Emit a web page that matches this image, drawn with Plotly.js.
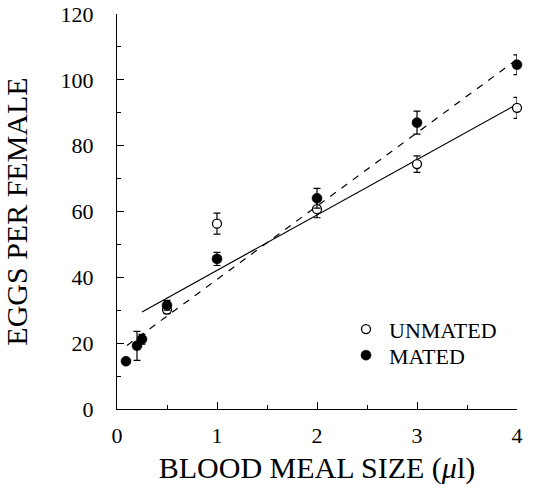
<!DOCTYPE html>
<html>
<head>
<meta charset="utf-8">
<script src="https://cdn.plot.ly/plotly-3.0.1.min.js"></script>
<style>html,body{margin:0;padding:0;background:#fff;}#chart{width:534px;height:501px;}</style>
</head>
<body>
<div id="chart"></div>
<script>
// Data
const unmatedX = [0.5, 1, 2, 3, 4];
const unmatedY = [30.2, 56.3, 60.7, 74.4, 91.5];
const unmatedErr = [1.2, 3.2, 2.6, 2.5, 3.2];

const matedX = [0.09, 0.2, 0.25, 0.5, 1, 2, 3, 4];
const matedY = [14.5, 19.2, 21.2, 31.5, 45.6, 64.0, 87.0, 104.6];
const matedErr = [0, 4.4, 1.5, 1.5, 2.0, 3.0, 3.5, 3.0];

const unmatedFitX = [0.25, 4];
const unmatedFitY = [29.5, 92.6];
const matedFitX = [0.1, 4];
const matedFitY = [19.3, 106.2];

const xTitle = 'BLOOD MEAL SIZE (<i>μ</i>l)';
const yTitle = 'EGGS PER FEMALE';

const serif = 'Liberation Serif, Times New Roman, serif';

const traces = [
  {x: unmatedFitX, y: unmatedFitY, mode: 'lines', line: {color: '#000', width: 1.2, dash: 'solid'}, showlegend: false, hoverinfo: 'skip'},
  {x: matedFitX, y: matedFitY, mode: 'lines', line: {color: '#000', width: 1.2, dash: '7px,7px'}, showlegend: false, hoverinfo: 'skip'},
  {x: unmatedX, y: unmatedY, name: 'UNMATED', mode: 'markers', cliponaxis: false, legend: 'legend',
   marker: {symbol: 'circle', size: 9, color: '#fff', line: {color: '#000', width: 1.3}},
   error_y: {type: 'data', array: unmatedErr, color: '#000', thickness: 1.2, width: 3.5}},
  {x: matedX, y: matedY, name: 'MATED', mode: 'markers', cliponaxis: false, legend: 'legend2',
   marker: {symbol: 'circle', size: 10, color: '#000', line: {color: '#000', width: 0.5}},
   error_y: {type: 'data', array: matedErr, color: '#000', thickness: 1.2, width: 3.5}}
];

const legendBase = {x: 0.565, xanchor: 'left', yanchor: 'top', bgcolor: 'rgba(0,0,0,0)',
  font: {family: serif, size: 22, color: '#000'}, tracegroupgap: 0, itemwidth: 36};

const layout = {
  width: 534, height: 501,
  margin: {l: 117, r: 17, t: 14, b: 91.5, pad: 0},
  paper_bgcolor: '#fff', plot_bgcolor: '#fff',
  font: {family: serif, color: '#000', size: 22},
  showlegend: true,
  legend: Object.assign({}, legendBase, {y: 0.255}),
  legend2: Object.assign({}, legendBase, {y: 0.189}),
  xaxis: {
    range: [0, 4], showline: true, linecolor: '#000', linewidth: 1.2, zeroline: false, showgrid: false,
    ticks: 'inside', ticklen: 7, tickcolor: '#000', tickwidth: 1, dtick: 1, tick0: 0,
    minor: {ticks: 'inside', ticklen: 4, dtick: 0.5, tickcolor: '#000', showgrid: false},
    tickfont: {family: serif, size: 22}, ticklabelstandoff: 6,
    title: {text: xTitle, font: {family: serif, size: 30}, standoff: 10}
  },
  yaxis: {
    range: [0, 120], showline: true, linecolor: '#000', linewidth: 1.2, zeroline: false, showgrid: false,
    ticks: 'inside', ticklen: 7, tickcolor: '#000', tickwidth: 1, dtick: 20, tick0: 0,
    minor: {ticks: 'inside', ticklen: 4, dtick: 10, tickcolor: '#000', showgrid: false},
    tickfont: {family: serif, size: 22}, ticklabelstandoff: 18,
    title: {text: yTitle, font: {family: serif, size: 30}, standoff: 28}
  }
};

Plotly.newPlot('chart', traces, layout, {displayModeBar: false, staticPlot: true});
</script>
</body>
</html>
